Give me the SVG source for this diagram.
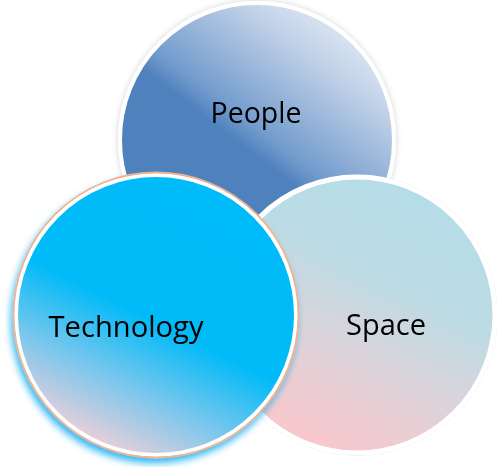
<svg xmlns="http://www.w3.org/2000/svg" width="497" height="467" viewBox="0 0 497 467">
<defs>
<linearGradient id="gPeople" x1="0.2" y1="0.9" x2="0.85" y2="0.05">
<stop offset="0" stop-color="#4F81BD"/>
<stop offset="0.42" stop-color="#4F81BD"/>
<stop offset="0.5" stop-color="#739CCD"/>
<stop offset="0.8" stop-color="#BFD0E7"/>
<stop offset="1" stop-color="#E6EDF6"/>
</linearGradient>
<linearGradient id="gSpace" x1="0.75" y1="0.05" x2="0.3" y2="0.95">
<stop offset="0" stop-color="#B4DDE8"/>
<stop offset="0.35" stop-color="#BCDBE4"/>
<stop offset="0.65" stop-color="#DDD3DA"/>
<stop offset="1" stop-color="#F9C7CB"/>
</linearGradient>
<linearGradient id="gTech" x1="0.75" y1="0.1" x2="0.3" y2="1">
<stop offset="0" stop-color="#00BBF9"/>
<stop offset="0.5" stop-color="#06BBF7"/>
<stop offset="0.75" stop-color="#80C7EC"/>
<stop offset="1" stop-color="#F8D0D8"/>
</linearGradient>
<filter id="shP" x="-20%" y="-20%" width="140%" height="140%">
<feGaussianBlur in="SourceAlpha" stdDeviation="3"/>
<feComponentTransfer><feFuncA type="linear" slope="0.18"/></feComponentTransfer>
<feMerge><feMergeNode/><feMergeNode in="SourceGraphic"/></feMerge>
</filter>
<filter id="shS" x="-20%" y="-20%" width="140%" height="140%">
<feGaussianBlur in="SourceAlpha" stdDeviation="3"/>
<feOffset dx="2" dy="4"/>
<feFlood flood-color="#7FC6DA" flood-opacity="0.7"/>
<feComposite operator="in" in2="SourceAlpha"/>
<feMerge><feMergeNode/><feMergeNode in="SourceGraphic"/></feMerge>
</filter>
<filter id="shT" x="-20%" y="-20%" width="140%" height="140%">
<feGaussianBlur in="SourceAlpha" stdDeviation="3.5" result="b"/>
<feOffset in="b" dx="-2" dy="5" result="o"/>
<feFlood flood-color="#14AEF0" flood-opacity="0.85"/>
<feComposite operator="in" in2="o"/>
<feMerge><feMergeNode/><feMergeNode in="SourceGraphic"/></feMerge>
</filter>
</defs>
<style>
.lbl{font-family:"Open Sans","Liberation Sans",sans-serif;font-size:29px;fill:#000;}
</style>
<g id="people" filter="url(#shP)">
<circle cx="257" cy="140" r="137" fill="url(#gPeople)" stroke="#FFFFFF" stroke-width="4"/>
<text class="lbl" x="256" y="123" text-anchor="middle" textLength="91" lengthAdjust="spacingAndGlyphs">People</text>
</g>
<g id="space" filter="url(#shS)">
<circle cx="357" cy="315" r="138" fill="url(#gSpace)" stroke="#FFFFFF" stroke-width="5"/>
<text class="lbl" x="386" y="335" text-anchor="middle" textLength="80" lengthAdjust="spacingAndGlyphs">Space</text>
</g>
<g id="technology" filter="url(#shT)">
<circle cx="156" cy="315" r="140" fill="url(#gTech)" stroke="#FFFFFF" stroke-width="4"/>
<circle cx="156" cy="315" r="142.5" fill="none" stroke="#EFB58C" stroke-width="1.8"/>
<text class="lbl" x="126" y="337" text-anchor="middle" textLength="155" lengthAdjust="spacingAndGlyphs">Technology</text>
</g>
<g id="connectors"/>
</svg>
